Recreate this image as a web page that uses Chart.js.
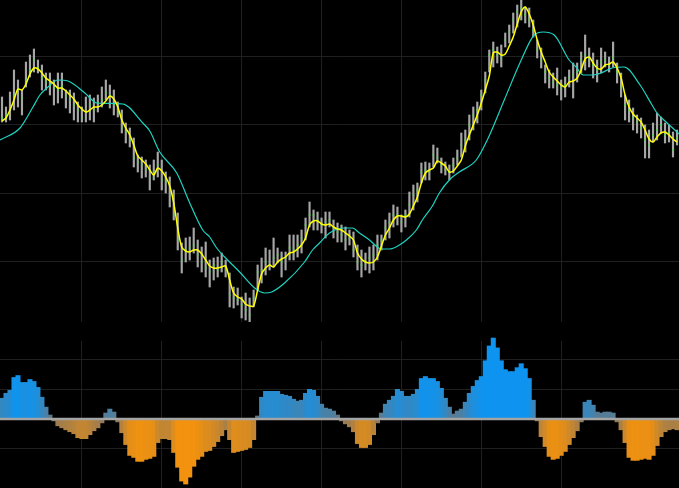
<!DOCTYPE html>
<html>
<head>
<meta charset="utf-8">
<script src="https://cdn.jsdelivr.net/npm/chart.js@4.4.1/dist/chart.umd.min.js"></script>
<style>
  html, body { margin: 0; padding: 0; background: #000; }
  #wrap { width: 679px; height: 488px; position: relative; overflow: hidden; }
  #top { position: absolute; left: 0; top: 0; width: 679px; height: 322px; }
  #bottom { position: absolute; left: 0; top: 322px; width: 679px; height: 166px; }
</style>
</head>
<body>
<div id="wrap">
  <div id="top"><canvas id="price-chart"></canvas></div>
  <div id="bottom"><canvas id="osc-chart"></canvas></div>
</div>
<script>
// Preços (barras OHLC sem abertura), uma barra por índice
const highs = [
  1.261,1.251,1.266,1.288,1.278,1.268,1.296,1.303,1.309,1.298,
  1.293,1.285,1.285,1.278,1.285,1.285,1.268,1.268,1.265,1.256,
  1.251,1.261,1.263,1.260,1.263,1.271,1.278,1.273,1.268,1.256,
  1.248,1.235,1.230,1.220,1.203,1.201,1.198,1.193,1.198,1.206,
  1.198,1.186,1.181,1.168,1.145,1.115,1.120,1.121,1.130,1.118,
  1.111,1.116,1.098,1.100,1.101,1.105,1.098,1.085,1.071,1.070,
  1.061,1.065,1.060,1.068,1.093,1.100,1.110,1.108,1.120,1.110,
  1.106,1.106,1.123,1.123,1.123,1.128,1.140,1.156,1.148,1.146,
  1.140,1.146,1.146,1.138,1.135,1.133,1.131,1.128,1.126,1.113,
  1.108,1.105,1.111,1.113,1.123,1.123,1.138,1.145,1.153,1.151,
  1.143,1.148,1.166,1.173,1.175,1.195,1.196,1.195,1.213,1.210,
  1.200,1.196,1.193,1.200,1.208,1.225,1.228,1.243,1.251,1.256,
  1.268,1.286,1.308,1.316,1.311,1.313,1.325,1.333,1.345,1.353,
  1.358,1.351,1.350,1.338,1.318,1.310,1.293,1.288,1.285,1.290,
  1.278,1.281,1.288,1.295,1.295,1.306,1.323,1.310,1.305,1.298,
  1.310,1.306,1.301,1.316,1.295,1.285,1.263,1.258,1.250,1.243,
  1.240,1.233,1.228,1.235,1.245,1.241,1.235,1.233,1.226,1.228
];
const lows = [
  1.236,1.236,1.238,1.248,1.251,1.243,1.271,1.281,1.286,1.285,
  1.268,1.268,1.263,1.253,1.255,1.260,1.250,1.245,1.238,1.236,
  1.236,1.236,1.238,1.236,1.246,1.251,1.258,1.250,1.243,1.241,
  1.225,1.215,1.211,1.191,1.186,1.180,1.181,1.168,1.178,1.181,
  1.168,1.165,1.151,1.138,1.108,1.085,1.096,1.098,1.105,1.091,
  1.086,1.081,1.071,1.078,1.081,1.086,1.081,1.051,1.050,1.053,
  1.040,1.038,1.036,1.051,1.068,1.075,1.083,1.088,1.091,1.095,
  1.081,1.088,1.098,1.098,1.101,1.105,1.118,1.131,1.128,1.128,
  1.125,1.120,1.131,1.120,1.116,1.116,1.108,1.113,1.101,1.088,
  1.081,1.088,1.085,1.088,1.098,1.108,1.118,1.120,1.131,1.133,
  1.126,1.131,1.141,1.148,1.156,1.175,1.178,1.178,1.191,1.195,
  1.185,1.183,1.178,1.185,1.193,1.201,1.206,1.218,1.228,1.235,
  1.248,1.265,1.286,1.291,1.295,1.291,1.311,1.315,1.325,1.331,
  1.338,1.335,1.331,1.321,1.300,1.290,1.275,1.270,1.270,1.263,
  1.258,1.261,1.271,1.260,1.276,1.285,1.288,1.291,1.280,1.276,
  1.285,1.291,1.286,1.291,1.275,1.261,1.238,1.236,1.228,1.225,
  1.220,1.200,1.200,1.216,1.218,1.225,1.215,1.216,1.201,1.213
];
const closes = [
  1.240,1.243,1.250,1.263,1.268,1.260,1.278,1.288,1.298,1.290,
  1.280,1.276,1.273,1.270,1.268,1.272,1.262,1.258,1.253,1.248,
  1.240,1.246,1.253,1.248,1.255,1.258,1.265,1.263,1.254,1.245,
  1.230,1.226,1.218,1.200,1.196,1.193,1.188,1.180,1.186,1.193,
  1.178,1.176,1.163,1.143,1.118,1.098,1.108,1.110,1.113,1.103,
  1.096,1.090,1.086,1.093,1.088,1.096,1.088,1.063,1.060,1.058,
  1.053,1.048,1.043,1.060,1.086,1.088,1.096,1.093,1.100,1.103,
  1.096,1.100,1.110,1.108,1.113,1.120,1.133,1.143,1.143,1.138,
  1.133,1.136,1.138,1.130,1.126,1.123,1.118,1.120,1.108,1.096,
  1.093,1.096,1.100,1.103,1.113,1.118,1.130,1.136,1.143,1.143,
  1.136,1.143,1.153,1.163,1.168,1.186,1.188,1.186,1.203,1.200,
  1.193,1.188,1.186,1.193,1.200,1.213,1.218,1.233,1.243,1.248,
  1.263,1.278,1.303,1.308,1.303,1.300,1.318,1.326,1.338,1.346,
  1.350,1.343,1.338,1.328,1.308,1.298,1.286,1.280,1.276,1.273,
  1.270,1.273,1.280,1.283,1.286,1.298,1.303,1.300,1.293,1.288,
  1.296,1.298,1.293,1.300,1.286,1.270,1.253,1.248,1.240,1.236,
  1.230,1.218,1.213,1.223,1.228,1.233,1.223,1.225,1.208,1.220
];

// Média rápida (amarela)
const fastMA = [
  1.237,1.240,1.248,1.258,1.269,1.268,1.274,1.284,1.290,1.289,
  1.285,1.280,1.277,1.274,1.270,1.270,1.267,1.263,1.259,1.253,
  1.249,1.246,1.248,1.251,1.251,1.253,1.257,1.262,1.259,1.251,
  1.238,1.230,1.223,1.213,1.202,1.198,1.194,1.188,1.183,1.190,
  1.187,1.181,1.172,1.155,1.130,1.111,1.107,1.106,1.108,1.108,
  1.104,1.098,1.092,1.090,1.090,1.091,1.092,1.078,1.065,1.061,
  1.059,1.054,1.052,1.052,1.068,1.084,1.090,1.093,1.091,1.096,
  1.099,1.101,1.105,1.106,1.109,1.113,1.120,1.133,1.137,1.137,
  1.134,1.133,1.134,1.131,1.129,1.128,1.125,1.122,1.118,1.105,
  1.099,1.096,1.095,1.096,1.101,1.112,1.123,1.130,1.138,1.142,
  1.142,1.141,1.144,1.152,1.161,1.175,1.185,1.188,1.190,1.197,
  1.195,1.192,1.186,1.187,1.192,1.198,1.212,1.223,1.233,1.243,
  1.255,1.268,1.282,1.305,1.306,1.303,1.304,1.312,1.321,1.334,
  1.346,1.351,1.344,1.333,1.318,1.306,1.296,1.286,1.281,1.277,
  1.273,1.271,1.276,1.277,1.280,1.288,1.299,1.301,1.295,1.290,
  1.289,1.293,1.294,1.296,1.290,1.280,1.263,1.251,1.244,1.240,
  1.236,1.228,1.219,1.216,1.221,1.225,1.226,1.223,1.219,1.216
];

// Média lenta (ciano), lida em pontos esparsos
const slowX = [
  -0.5,4.5,7.75,9.5,11.25,14,16.5,20.75,23.75,30.25,
  35.25,37,39.5,43.75,47,50.25,52,53.75,55.75,59.5,
  63.25,65.75,67.5,70.75,75.75,77.75,79.5,82,85.75,87.75,
  89.5,92,95,97,99.5,101.25,103.75,105.25,107.75,109.5,
  112,114.5,118.75,121.5,125.75,130,133.25,135.5,138.25,142,
  143.75,145.5,147.75,150,152.75,155.75,159.75,162.75,164,166.25,
  169,169.5
];
const slowY = [
  1.218,1.230,1.251,1.263,1.270,1.278,1.277,1.265,1.255,1.254,
  1.235,1.227,1.206,1.185,1.155,1.128,1.121,1.110,1.101,1.086,
  1.070,1.065,1.066,1.075,1.096,1.108,1.115,1.125,1.130,1.130,
  1.125,1.118,1.109,1.109,1.113,1.118,1.128,1.138,1.152,1.165,
  1.178,1.186,1.198,1.218,1.258,1.298,1.323,1.326,1.323,1.298,
  1.291,1.283,1.283,1.285,1.290,1.291,1.273,1.253,1.245,1.236,
  1.226,1.224
];

// Oscilador (painel inferior)
const osc = [
  0.21,0.26,0.29,0.42,0.44,0.37,0.37,0.40,0.38,0.32,
  0.22,0.12,0.04,-0.02,-0.07,-0.09,-0.11,-0.13,-0.15,-0.19,
  -0.20,-0.20,-0.16,-0.12,-0.09,-0.04,0.06,0.10,0.07,-0.03,
  -0.14,-0.26,-0.37,-0.39,-0.43,-0.43,-0.41,-0.40,-0.38,-0.24,
  -0.20,-0.20,-0.21,-0.34,-0.49,-0.63,-0.66,-0.59,-0.48,-0.41,
  -0.38,-0.33,-0.32,-0.28,-0.23,-0.17,-0.11,-0.21,-0.34,-0.33,
  -0.32,-0.31,-0.29,-0.21,0.03,0.22,0.28,0.28,0.28,0.28,
  0.25,0.24,0.23,0.20,0.18,0.19,0.26,0.30,0.29,0.23,
  0.15,0.11,0.10,0.08,0.04,-0.02,-0.05,-0.08,-0.13,-0.25,
  -0.29,-0.29,-0.26,-0.16,-0.04,0.06,0.15,0.19,0.23,0.30,
  0.28,0.23,0.23,0.25,0.30,0.41,0.43,0.41,0.41,0.38,
  0.31,0.21,0.12,0.05,0.08,0.10,0.17,0.26,0.33,0.39,
  0.43,0.59,0.74,0.82,0.72,0.59,0.50,0.48,0.48,0.52,
  0.56,0.51,0.41,0.19,-0.02,-0.18,-0.28,-0.38,-0.41,-0.40,
  -0.37,-0.33,-0.26,-0.19,-0.12,-0.03,0.17,0.19,0.14,0.07,
  0.06,0.07,0.07,0.06,-0.03,-0.11,-0.24,-0.39,-0.42,-0.42,
  -0.41,-0.40,-0.41,-0.37,-0.27,-0.18,-0.13,-0.11,-0.10,-0.11
];

const priceMin = 1.036, priceMax = 1.358, priceStep = 0.0685;
const oscMin = -0.70, oscMax = 0.79, oscStep = 0.3;
const gridColor = '#202020';

function onStep(v, step) {
  const r = v / step;
  return Math.abs(r - Math.round(r)) < 1e-3;
}

function oscColor(v) {
  const t = Math.pow(Math.min(1, Math.abs(v) / 0.45), 0.6);
  const base = [118, 114, 110];
  const tgt = v >= 0 ? [14, 148, 240] : [242, 146, 14];
  const c = base.map((b, k) => Math.round(b + (tgt[k] - b) * t));
  return `rgb(${c[0]}, ${c[1]}, ${c[2]})`;
}

const xAxis = {
  type: 'linear',
  offset: false,
  min: -0.5,
  max: osc.length - 0.5,
  ticks: { display: false, stepSize: 20, autoSkip: false, maxTicksLimit: 30 },
  border: { display: false },
  grid: {
    offset: false,
    drawTicks: false,
    color: ctx => (ctx.tick && ctx.tick.value > 0 && ctx.tick.value % 20 === 0) ? gridColor : 'transparent'
  }
};

Chart.defaults.animation = false;

const priceChart = new Chart(document.getElementById('price-chart'), {
  type: 'bar',
  data: {
    datasets: [
      {
        type: 'line',
        label: 'Média rápida',
        data: fastMA.map((v, i) => ({ x: i, y: v })),
        borderColor: '#ffff00',
        borderWidth: 1.5,
        pointRadius: 0,
        tension: 0.3,
        order: 0
      },
      {
        type: 'line',
        label: 'Média lenta',
        data: slowX.map((x, i) => ({ x: x, y: slowY[i] })),
        borderColor: '#1ed2c2',
        borderWidth: 1.2,
        pointRadius: 0,
        cubicInterpolationMode: 'monotone',
        order: 1
      },
      {
        type: 'scatter',
        label: 'Fechamento',
        data: closes.map((v, i) => ({ x: i, y: v })),
        pointStyle: 'rect',
        pointRadius: 1.1,
        backgroundColor: '#2ef02e',
        borderWidth: 0,
        order: 2
      },
      {
        type: 'bar',
        label: 'Máx/Mín',
        data: lows.map((v, i) => ({ x: i, y: [v, highs[i]] })),
        backgroundColor: '#a6a6a6',
        barThickness: 1.5,
        order: 3
      }
    ]
  },
  options: {
    responsive: true,
    maintainAspectRatio: false,
    layout: { padding: 0, autoPadding: false },
    plugins: { legend: { display: false }, tooltip: { enabled: false } },
    scales: {
      x: xAxis,
      y: {
        min: priceMin,
        max: priceMax,
        ticks: { display: false, stepSize: priceStep },
        border: { display: false },
        grid: {
          drawTicks: false,
          color: ctx => (ctx.tick && onStep(ctx.tick.value, priceStep)) ? gridColor : 'transparent'
        }
      }
    }
  }
});

const oscChart = new Chart(document.getElementById('osc-chart'), {
  type: 'bar',
  data: {
    datasets: [
      {
        type: 'line',
        label: 'Zero',
        data: [{ x: -0.5, y: 0 }, { x: osc.length - 0.5, y: 0 }],
        borderColor: '#a4a4a4',
        borderWidth: 2.5,
        pointRadius: 0,
        order: 0
      },
      {
        type: 'bar',
        label: 'Oscilador',
        data: osc.map((v, i) => ({ x: i, y: v })),
        backgroundColor: ctx => oscColor(ctx.raw ? ctx.raw.y : 0),
        borderWidth: 0,
        barThickness: 4.4,
        clip: false,
        order: 1
      }
    ]
  },
  options: {
    responsive: true,
    maintainAspectRatio: false,
    layout: { padding: { top: 19, left: 0, right: 0, bottom: 0 }, autoPadding: false },
    plugins: { legend: { display: false }, tooltip: { enabled: false } },
    scales: {
      x: xAxis,
      y: {
        min: oscMin,
        max: oscMax,
        ticks: { display: false, stepSize: oscStep },
        border: { display: false },
        grid: {
          drawTicks: false,
          color: ctx => (ctx.tick && onStep(ctx.tick.value, oscStep)) ? gridColor : 'transparent'
        }
      }
    }
  }
});
</script>
</body>
</html>
